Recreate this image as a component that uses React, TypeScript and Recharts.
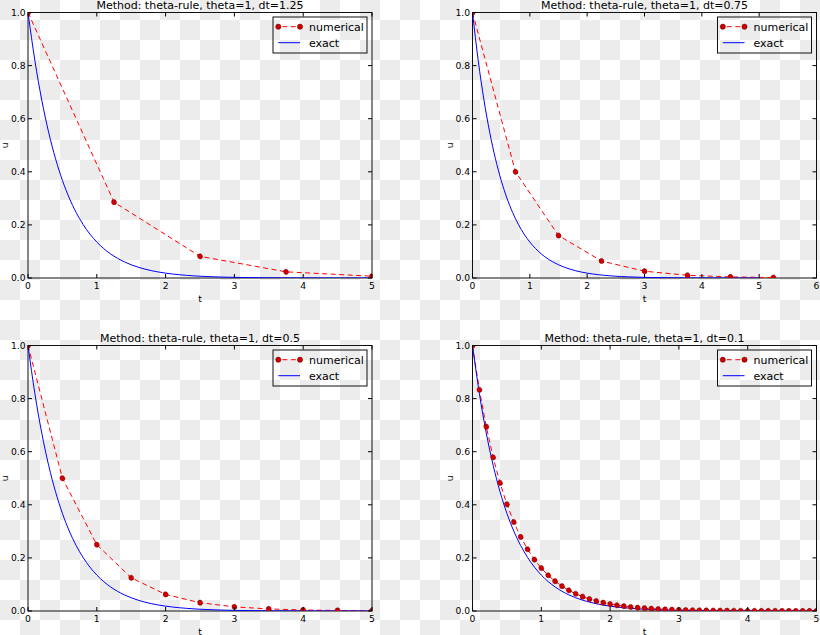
import React from 'react';
import { LineChart, Line, XAxis, YAxis } from 'recharts';

// time grid for the exact solution (and the dt=0.1 run)
const fineT = [
  0, 0.1, 0.2, 0.3, 0.4, 0.5, 0.6, 0.7, 0.8, 0.9,
  1.0, 1.1, 1.2, 1.3, 1.4, 1.5, 1.6, 1.7, 1.8, 1.9,
  2.0, 2.1, 2.2, 2.3, 2.4, 2.5, 2.6, 2.7, 2.8, 2.9,
  3.0, 3.1, 3.2, 3.3, 3.4, 3.5, 3.6, 3.7, 3.8, 3.9,
  4.0, 4.1, 4.2, 4.3, 4.4, 4.5, 4.6, 4.7, 4.8, 4.9, 5.0,
];
const exactU = [
  1, 0.8187, 0.6703, 0.5488, 0.4493, 0.3679, 0.3012, 0.2466, 0.2019, 0.1653,
  0.1353, 0.1108, 0.0907, 0.0743, 0.0608, 0.0498, 0.0408, 0.0334, 0.0273, 0.0224,
  0.0183, 0.015, 0.0123, 0.0101, 0.0082, 0.0067, 0.0055, 0.0045, 0.0037, 0.003,
  0.0025, 0.002, 0.0017, 0.0014, 0.0011, 0.0009, 0.0007, 0.0006, 0.0005, 0.0004,
  0.0003, 0.0003, 0.0002, 0.0002, 0.0002, 0.0001, 0.0001, 0.0001, 0.0001, 0.0001, 0,
];

const t125 = [0, 1.25, 2.5, 3.75, 5];
const u125 = [1, 0.2857, 0.0816, 0.0233, 0.0067];

const t075 = [0, 0.75, 1.5, 2.25, 3, 3.75, 4.5, 5.25];
const u075 = [1, 0.4, 0.16, 0.064, 0.0256, 0.0102, 0.0041, 0.0016];

const t05 = [0, 0.5, 1, 1.5, 2, 2.5, 3, 3.5, 4, 4.5, 5];
const u05 = [1, 0.5, 0.25, 0.125, 0.0625, 0.0313, 0.0156, 0.0078, 0.0039, 0.002, 0.001];

const u01 = [
  1, 0.8333, 0.6944, 0.5787, 0.4823, 0.4019, 0.3349, 0.2791, 0.2326, 0.1938,
  0.1615, 0.1346, 0.1122, 0.0935, 0.0779, 0.0649, 0.0541, 0.0451, 0.0376, 0.0313,
  0.0261, 0.0217, 0.0181, 0.0151, 0.0126, 0.0105, 0.0087, 0.0073, 0.0061, 0.0051,
  0.0042, 0.0035, 0.0029, 0.0024, 0.002, 0.0017, 0.0014, 0.0012, 0.001, 0.0008,
  0.0007, 0.0006, 0.0005, 0.0004, 0.0003, 0.0003, 0.0002, 0.0002, 0.0002, 0.0001, 0.0001,
];

const yTicks = [0, 0.2, 0.4, 0.6, 0.8, 1.0];
const xTicks5 = [0, 1, 2, 3, 4, 5];
const xTicks6 = [0, 1, 2, 3, 4, 5, 6];

const FONT = '"DejaVu Sans", sans-serif';

const zip = (t: number[], u: number[]) => t.map((x, i) => ({ t: x, u: u[i] }));
const exact = zip(fineT, exactU);

interface PanelProps {
  title: string;
  left: number;
  top: number;
  xMax: number;
  xTicks: number[];
  num: { t: number; u: number }[];
}

const W = 344;
const H = 265.5;

function Panel({ title, left, top, xMax, xTicks, num }: PanelProps) {
  const right = left + W;
  const bottom = top + H;

  const renderXTick = ({ x, payload }: any) => (
    <g key={`x${payload.value}`}>
      <line x1={x} x2={x} y1={bottom} y2={bottom - 4} stroke="#000" />
      <line x1={x} x2={x} y1={top} y2={top + 4} stroke="#000" />
      <text x={x} y={bottom + 10.8} textAnchor="middle" fontSize={9.2} fontFamily={FONT} fill="#000">
        {payload.value}
      </text>
    </g>
  );

  const renderYTick = ({ y, payload }: any) => (
    <g key={`y${payload.value}`}>
      <line x1={left} x2={left + 4} y1={y} y2={y} stroke="#000" />
      <line x1={right - 4} x2={right} y1={y} y2={y} stroke="#000" />
      <text x={left - 2.5} y={y + 3.3} textAnchor="end" fontSize={9.2} fontFamily={FONT} fill="#000">
        {Number(payload.value).toFixed(1)}
      </text>
    </g>
  );

  // axes get 1px of room (an axis of size 0 is not drawn)
  return (
    <div style={{ position: 'absolute', left: 0, top: 0, width: 820, height: 635 }}>
      <LineChart
        width={820}
        height={635}
        margin={{ left: left - 1, top, right: 820 - right, bottom: 635 - bottom - 1 }}
      >
        <XAxis
          type="number"
          dataKey="t"
          domain={[0, xMax]}
          ticks={xTicks}
          interval={0}
          allowDataOverflow
          height={1}
          axisLine={false}
          tickLine={false}
          tickSize={0}
          tick={renderXTick}
        />
        <YAxis
          type="number"
          dataKey="u"
          domain={[0, 1]}
          ticks={yTicks}
          interval={0}
          allowDataOverflow
          width={1}
          axisLine={false}
          tickLine={false}
          tickSize={0}
          tick={renderYTick}
        />
        <Line
          data={num}
          dataKey="u"
          type="linear"
          stroke="#ff0000"
          strokeWidth={1}
          strokeDasharray="5 3.5"
          dot={{ r: 2.6, fill: '#cc0000', stroke: '#660000', strokeWidth: 0.5 }}
          isAnimationActive={false}
        />
        <Line
          data={exact}
          dataKey="u"
          type="monotone"
          stroke="#0000ff"
          strokeWidth={1}
          dot={false}
          isAnimationActive={false}
        />
        <rect x={left} y={top} width={W} height={H} fill="none" stroke="#111" strokeWidth={1} />
        <text x={left + W / 2} y={top - 3.3} textAnchor="middle" fontSize={11} fontFamily={FONT} fill="#000">
          {title}
        </text>
        <text x={left + W / 2} y={bottom + 23.5} textAnchor="middle" fontSize={9.2} fontFamily={FONT} fill="#000">
          t
        </text>
        <text
          x={left - 20}
          y={top + H / 2}
          textAnchor="middle"
          fontSize={9.2}
          fontFamily={FONT}
          fill="#000"
          transform={`rotate(-90 ${left - 20} ${top + H / 2})`}
        >
          u
        </text>
        {/* legend */}
        <rect x={right - 99} y={top + 4.5} width={94} height={36} fill="none" stroke="#111" strokeWidth={1} />
        <line x1={right - 93.7} x2={right - 72} y1={top + 14.2} y2={top + 14.2} stroke="#ff0000" strokeDasharray="5 3.5" strokeDashoffset={-4} />
        <circle cx={right - 93.7} cy={top + 14.2} r={2.6} fill="#cc0000" stroke="#660000" strokeWidth={0.5} />
        <circle cx={right - 72} cy={top + 14.2} r={2.6} fill="#cc0000" stroke="#660000" strokeWidth={0.5} />
        <text x={right - 63} y={top + 18} fontSize={11} fontFamily={FONT} fill="#000">numerical</text>
        <line x1={right - 93.7} x2={right - 72} y1={top + 30.2} y2={top + 30.2} stroke="#0000ff" />
        <text x={right - 63} y={top + 34} fontSize={11} fontFamily={FONT} fill="#000">exact</text>
      </LineChart>
    </div>
  );
}

export default function App() {
  return (
    <div
      style={{
        position: 'absolute',
        left: 0,
        top: 0,
        width: 820,
        height: 635,
        overflow: 'hidden',
        backgroundColor: '#fff',
        backgroundImage: 'repeating-conic-gradient(#ffffff 0 25%, #ececec 0 50%)',
        backgroundSize: '40px 40px',
      }}
    >
      <Panel title="Method: theta-rule, theta=1, dt=1.25" left={28} top={12.5} xMax={5} xTicks={xTicks5} num={zip(t125, u125)} />
      <Panel title="Method: theta-rule, theta=1, dt=0.75" left={472.5} top={12.5} xMax={6} xTicks={xTicks6} num={zip(t075, u075)} />
      <Panel title="Method: theta-rule, theta=1, dt=0.5" left={28} top={345.5} xMax={5} xTicks={xTicks5} num={zip(t05, u05)} />
      <Panel title="Method: theta-rule, theta=1, dt=0.1" left={472.5} top={345.5} xMax={5} xTicks={xTicks5} num={zip(fineT, u01)} />
    </div>
  );
}
